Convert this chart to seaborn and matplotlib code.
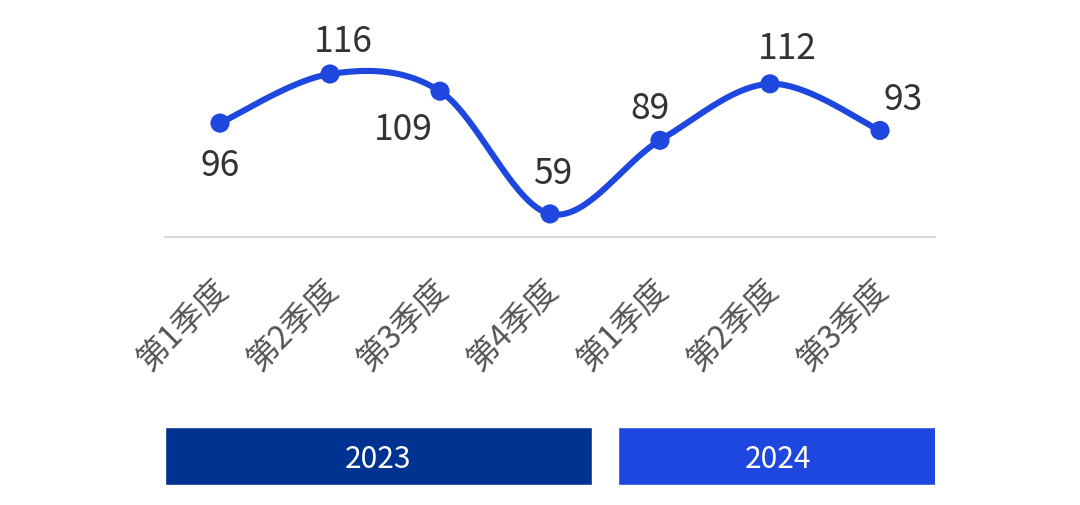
import matplotlib
matplotlib.use("Agg")
import matplotlib.pyplot as plt
import seaborn as sns
import pandas as pd
import numpy as np

# data
quarters = ["第1季度", "第2季度", "第3季度", "第4季度", "第1季度", "第2季度", "第3季度"]
values = [96, 116, 109, 59, 89, 112, 93]
years = ["2023", "2024"]
quarters_per_year = [4, 3]

LINE_BLUE = "#1d47de"
DARK_BLUE = "#003391"
TEXT_DARK = "#333333"
TEXT_GRAY = "#555555"

# label offsets in pixels (dx, dy) - layout only
label_offsets = [(0, -43), (13, 32), (-37, -39), (3, 40), (-10, 31), (17, 35), (23, 30)]


def smooth_curve(x, y, n=40):
    # catmull-rom spline through the points
    x = np.asarray(x, float)
    y = np.asarray(y, float)
    px = np.concatenate([[x[0]], x, [x[-1]]])
    py = np.concatenate([[y[0]], y, [y[-1]]])
    xs, ys = [], []
    t = np.linspace(0, 1, n)
    h00 = 2 * t**3 - 3 * t**2 + 1
    h10 = t**3 - 2 * t**2 + t
    h01 = -2 * t**3 + 3 * t**2
    h11 = t**3 - t**2
    for i in range(1, len(px) - 2):
        mx0 = (px[i + 1] - px[i - 1]) / 2
        mx1 = (px[i + 2] - px[i]) / 2
        my0 = (py[i + 1] - py[i - 1]) / 2
        my1 = (py[i + 2] - py[i]) / 2
        xs.append(h00 * px[i] + h10 * mx0 + h01 * px[i + 1] + h11 * mx1)
        ys.append(h00 * py[i] + h10 * my0 + h01 * py[i + 1] + h11 * my1)
    return np.concatenate(xs), np.concatenate(ys)


sns.set_theme(style="white")
plt.rcParams['font.family'] = ['Noto Sans CJK SC', 'DejaVu Sans']

fig = plt.figure(figsize=(10.8, 5.05), dpi=100)
ax = fig.add_axes([165 / 1080, 1 - 237 / 505, 770 / 1080, 217 / 505])

df = pd.DataFrame({"idx": np.arange(len(values)), "value": values})
sx, sy = smooth_curve(df["idx"], df["value"])
sns.lineplot(x=sx, y=sy, ax=ax, color=LINE_BLUE, linewidth=4.4, sort=False,
             clip_on=False)
sns.scatterplot(data=df, x="idx", y="value", ax=ax, color=LINE_BLUE, s=190,
                edgecolor="none", zorder=5, clip_on=False)

for i, v in enumerate(values):
    dx, dy = label_offsets[i]
    ax.annotate(str(v), xy=(i, v), xytext=(dx, dy), textcoords="offset pixels",
                ha="center", va="center", fontsize=25.5, color=TEXT_DARK)

ax.set_xlim(-0.5, len(values) - 0.5)
ax.set_ylim(49.6, 138)
for s in ["top", "right", "left"]:
    ax.spines[s].set_visible(False)
ax.spines["bottom"].set_color("#d9d9d9")
ax.spines["bottom"].set_linewidth(1.5)
ax.set_yticks([])
ax.set_xticks(range(len(quarters)))
ax.set_xticklabels([])
ax.tick_params(axis="x", length=0)
ax.set_xlabel("")
ax.set_ylabel("")

for i, q in enumerate(quarters):
    ax.annotate(q, xy=(i, 0), xycoords=("data", "axes fraction"),
                xytext=(3, -48), textcoords="offset pixels",
                ha="right", va="center", rotation=45, rotation_mode="anchor",
                fontsize=23, color=TEXT_GRAY)

# year bars
yax = fig.add_axes([165 / 1080, 1 - 485 / 505, 770 / 1080, 58 / 505])
yax.set_xlim(-0.5, len(values) - 0.5)
yax.set_ylim(0, 1)
yax.axis("off")
gap = 0.12
start = -0.5
colors = [DARK_BLUE, LINE_BLUE]
for k, (yr, n) in enumerate(zip(years, quarters_per_year)):
    left = start + (gap if k > 0 else 0)
    right = start + n - (gap if k < len(years) - 1 else 0)
    if k == len(years) - 1:
        right += 0.02
    yax.barh(0.5, right - left, left=left, height=1.0, color=colors[k])
    yax.text((left + right) / 2, 0.5, yr, ha="center", va="center_baseline",
             fontsize=21.5, color="white")
    start += n

fig.savefig("out.png", dpi=100)
